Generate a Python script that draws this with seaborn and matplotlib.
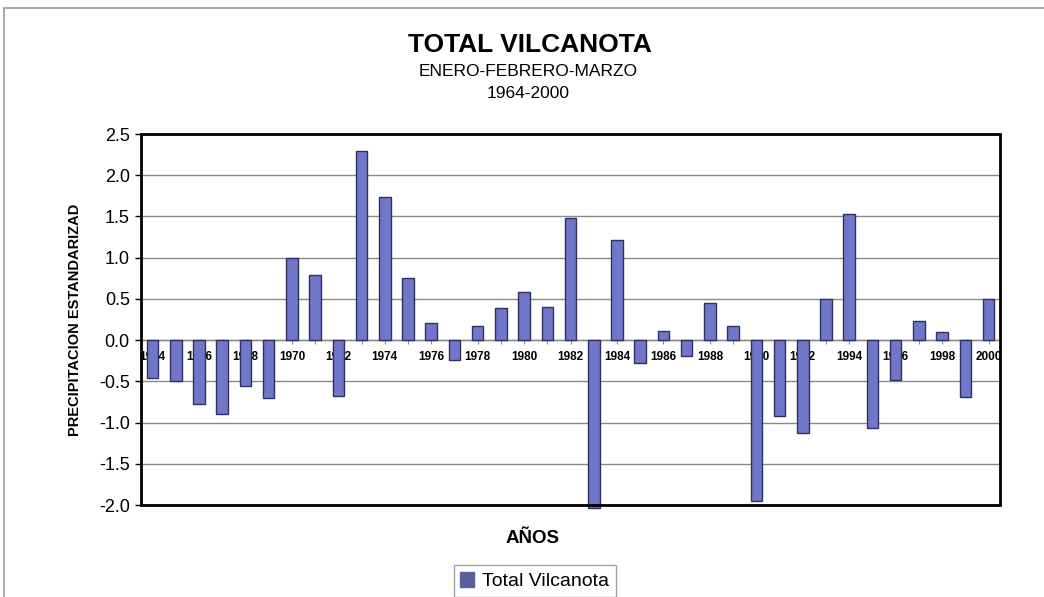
import numpy as np
import pandas as pd
import matplotlib
matplotlib.use("Agg")
import matplotlib.pyplot as plt
from matplotlib.patches import Rectangle
import seaborn as sns

years = list(range(1964, 2001))
values = [-0.46, -0.50, -0.77, -0.90, -0.55, -0.70, 1.00, 0.79, -0.68, 2.30,
          1.74, 0.75, 0.21, -0.24, 0.17, 0.39, 0.59, 0.40, 1.48, -2.04,
          1.21, -0.28, 0.11, -0.19, 0.45, 0.17, -1.95, -0.92, -1.12, 0.50,
          1.53, -1.07, -0.48, 0.23, 0.10, -0.69, 0.50]
series_name = "Total Vilcanota"
yticks = [-2.0, -1.5, -1.0, -0.5, 0.0, 0.5, 1.0, 1.5, 2.0, 2.5]

df = pd.DataFrame({"year": [str(y) for y in years], "value": values})

sns.set_style("white")
plt.rcParams["font.family"] = ["Liberation Sans", "DejaVu Sans"]
plt.rcParams["text.color"] = "black"
plt.rcParams["xtick.color"] = "black"
plt.rcParams["ytick.color"] = "black"
plt.rcParams["axes.labelcolor"] = "black"

fig = plt.figure(figsize=(10.44, 5.97), dpi=100)
ax = fig.add_axes([0.135, 0.154, 0.823, 0.6215])

ax.set_axisbelow(True)
for t in yticks:
    ax.axhline(t, color="#8a8a8a", lw=1.0, zorder=0)

sns.barplot(data=df, x="year", y="value", color="#7177c8", width=0.5,
            edgecolor="#2e3160", linewidth=1.0, saturation=1, ax=ax,
            label=series_name, zorder=3)
for p in ax.patches:
    p.set_clip_on(False)
handles, labels = ax.get_legend_handles_labels()
if ax.get_legend() is not None:
    ax.get_legend().remove()

ax.set_ylim(-2.0, 2.5)
ax.set_xlim(-0.5, len(years) - 0.5)
ax.set_yticks(yticks)
ax.set_yticklabels([f"{t:.1f}" for t in yticks], fontsize=13)
ax.tick_params(axis="y", direction="out", length=4, width=1, pad=4, left=True)

# x axis at zero
ax.spines["bottom"].set_position(("data", 0))
ax.spines["bottom"].set_color("#8a8a8a")
ax.spines["bottom"].set_linewidth(1.0)
for s in ["top", "right", "left"]:
    ax.spines[s].set_visible(False)
ax.add_patch(Rectangle((0, 0), 1, 1, transform=ax.transAxes, fill=False,
                       lw=2.0, edgecolor="black", zorder=5, clip_on=False))

ax.set_xticks(range(len(years)))
ax.set_xticklabels([y if i % 2 == 0 else "" for i, y in enumerate(df["year"])],
                   fontsize=8.5, fontweight="bold")
ax.tick_params(axis="x", direction="out", length=3, width=0.8, pad=5,
               color="#8a8a8a", bottom=True, labelcolor="black")

ax.set_xlabel("")
ax.set_ylabel("PRECIPITACION ESTANDARIZAD", fontsize=10.5, fontweight="bold",
              labelpad=12)

fig.text(0.508, 0.925, "TOTAL VILCANOTA", ha="center", va="center",
         fontsize=19, fontweight="bold")
fig.text(0.506, 0.881, "ENERO-FEBRERO-MARZO", ha="center", va="center",
         fontsize=12.5)
fig.text(0.506, 0.844, "1964-2000", ha="center", va="center", fontsize=12.5)
fig.text(0.51, 0.098, "AÑOS", ha="center", va="center", fontsize=13.5,
         fontweight="bold")

leg = fig.legend(handles[:1], labels[:1], loc="lower center",
                 bbox_to_anchor=(0.512, -0.016), frameon=True, fontsize=14,
                 handlelength=0.7, handleheight=0.8, handletextpad=0.4,
                 borderpad=0.35, fancybox=False)
leg.get_frame().set_edgecolor("#888888")
leg.get_frame().set_linewidth(1.0)
for h in leg.legend_handles:
    h.set_facecolor("#5a5e99")
    h.set_edgecolor("#5a5e99")

fig.patches.append(Rectangle((0.004, -0.01), 1.0, 0.997, transform=fig.transFigure,
                             fill=False, edgecolor="#9a9a9a", lw=1.2))

fig.savefig("out.png", dpi=100)
